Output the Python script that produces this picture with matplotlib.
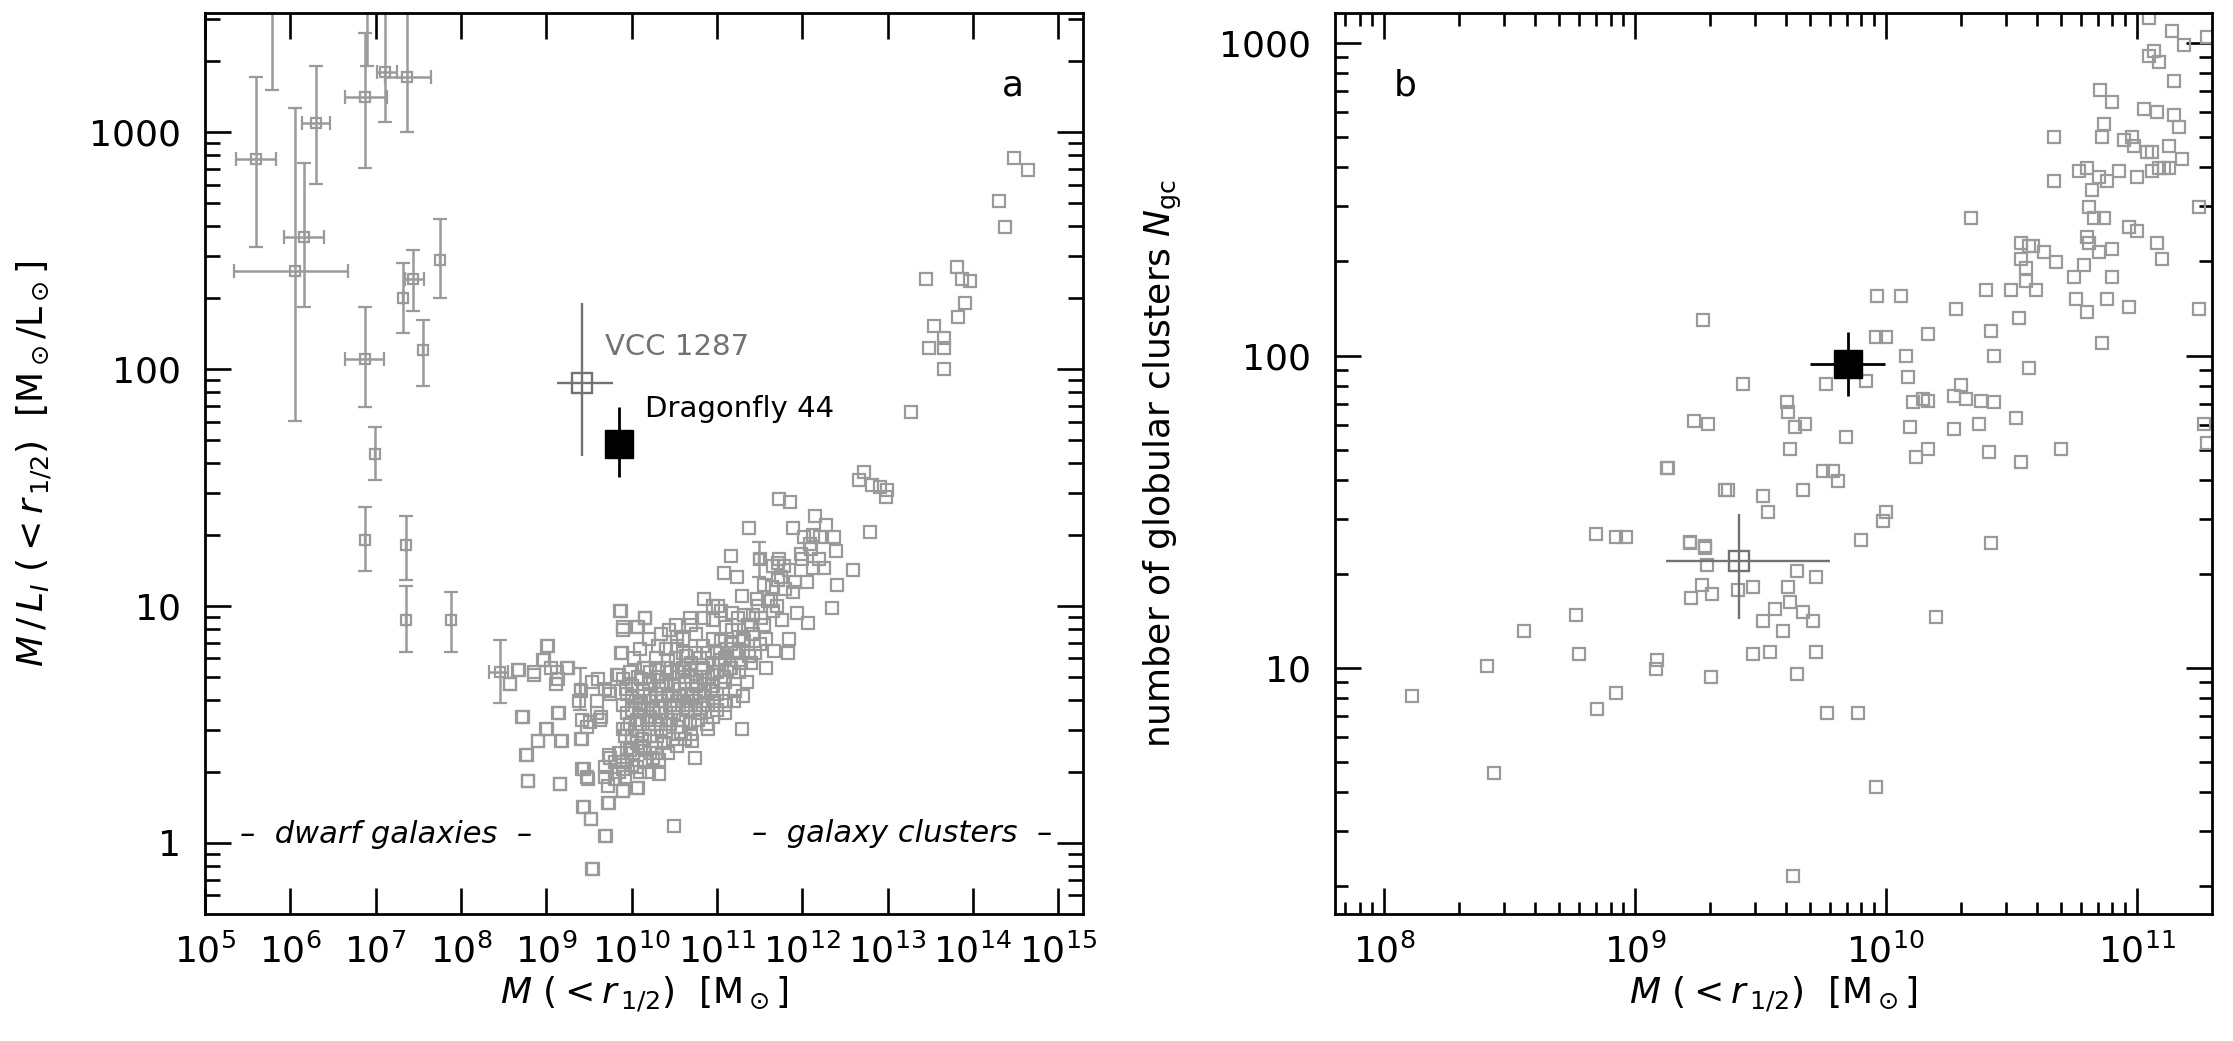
import numpy as np
import matplotlib
matplotlib.use('Agg')
import matplotlib.pyplot as plt
from matplotlib.ticker import LogLocator, NullFormatter, FuncFormatter, NullLocator

plt.rcParams['font.family'] = ['DejaVu Sans']
plt.rcParams['mathtext.fontset'] = 'dejavusans'

GREY = '#9a9a9a'
DARKGREY = '#727272'

# ---------------------------------------------------------------- panel a data
# galaxies (log M(<r1/2), log M/L_I)
cloud_logm = [
    11.38, 11.89, 12.15, 12.28, 12.79, 12.02, 12.13, 12.21, 12.37, 12.09, 12.39, 11.98,
    11.16, 11.51, 11.73, 11.71, 11.66, 11.79, 12.13, 12.25, 12.59, 11.08, 11.24, 11.71,
    11.55, 11.80, 11.89, 12.05, 12.41, 12.35, 11.29, 11.47, 11.63, 10.85, 11.01, 11.18,
    11.32, 11.94, 12.07, 11.76, 11.66, 9.87, 10.16, 9.90, 10.06, 10.31, 9.89, 10.53,
    10.69, 10.95, 11.11, 11.26, 11.42, 11.58, 11.84, 11.83, 11.67, 11.58, 11.37, 11.26,
    11.16, 10.95, 10.84, 10.74, 10.64, 10.53, 10.43, 10.32, 10.22, 10.11, 10.01, 9.95,
    10.15, 10.53, 10.69, 10.84, 10.95, 11.05, 11.16, 11.26, 11.21, 11.11, 10.95, 10.84,
    10.74, 10.64, 10.53, 10.43, 10.32, 10.22, 10.11, 10.01, 10.06, 10.22, 10.32, 10.43,
    10.53, 10.69, 10.90, 10.95, 11.09, 11.29, 10.71, 10.53, 10.43, 10.32, 10.22, 10.11,
    10.01, 9.90, 9.95, 10.06, 10.16, 9.90, 10.06, 10.32, 9.75, 9.69, 9.80, 9.72,
    9.72, 9.69, 9.90, 9.85, 10.74, 10.50, 9.69, 9.55, 9.52, 9.43, 9.42, 9.48,
    9.41, 9.42, 9.48, 9.64, 9.59, 9.59, 9.54, 9.69, 9.75, 9.41, 9.38, 9.17,
    9.16, 8.79, 8.77, 8.90, 9.01, 9.14, 8.73, 9.01, 8.96, 8.86, 8.67, 8.58,
    9.12, 9.06, 9.14, 9.25, 9.85, 9.90,
    9.86, 10.16, 9.90, 10.08, 9.02, 9.88, 8.97, 8.68, 8.86, 9.24, 8.58, 9.11,
    9.61, 9.73, 9.83, 8.72, 9.15, 9.00, 8.90, 9.18, 9.42, 9.63, 9.51, 8.76,
    8.78, 9.16, 9.44, 9.49, 9.73, 9.44, 9.52, 9.70, 9.54, 9.90, 10.07, 9.74,
    9.90, 9.98, 9.94, 10.10, 10.18,
    10.30, 10.40, 10.45, 10.50, 10.55, 10.60, 10.62, 10.70, 10.75, 10.80, 10.85, 10.90,
    10.35, 10.45, 10.55, 10.65, 10.75, 10.85, 10.95, 11.00, 11.05, 10.25, 10.15, 10.05,
    10.20, 10.30, 10.40, 10.50, 10.60, 10.80, 10.90, 11.00, 11.10, 11.20, 10.40, 10.60,
    10.80, 11.00, 10.10, 10.00, 9.95, 10.12, 10.28, 10.38, 10.48, 10.58, 10.68, 10.78,
    10.88, 11.00, 11.10, 11.20, 11.30, 11.35, 11.40, 11.45, 11.50, 11.55, 11.40, 11.30,
    11.20, 11.10, 9.80, 9.85, 9.92, 10.00, 10.20, 10.25, 10.35, 10.15,
    9.95, 10.00, 10.05, 10.08, 10.10, 10.13, 10.18, 10.20, 10.23, 10.27, 10.30, 10.33,
    10.37, 10.40, 10.42, 10.47, 10.50, 10.52, 10.57, 10.60, 10.63, 10.66, 10.70, 10.72,
    10.77, 10.80, 10.82, 10.86, 10.90, 10.93, 10.97, 11.02, 11.05, 11.08, 11.12, 11.15,
    11.18, 11.22, 11.25, 11.28, 11.32, 11.36, 11.42, 11.48, 11.52, 11.60, 11.65, 11.70,
    11.75, 11.85, 11.92, 12.00, 12.10, 12.20, 10.02, 10.10, 10.15, 10.22, 10.30, 10.35,
    10.45, 10.55, 10.62, 10.70, 9.90, 9.93, 9.98, 10.03, 10.10, 10.20, 10.28, 10.34,
    10.44, 10.52, 10.60, 10.68, 10.75, 10.85, 10.95, 11.05, 9.98, 9.92, 10.06,
    12.72, 12.66, 12.82, 12.91, 12.99, 12.98, 11.73, 11.86,
    13.27, 13.45, 13.81, 13.87, 13.97, 13.91, 13.83, 13.54, 13.49, 13.66, 13.66, 13.66,
    14.48, 14.65, 14.31, 14.37,
]
cloud_logml = [
    1.33, 1.33, 1.38, 1.34, 1.31, 1.29, 1.30, 1.29, 1.29, 1.26, 1.23, 1.22,
    1.21, 1.20, 1.20, 1.18, 1.17, 1.17, 1.16, 1.16, 1.15, 1.14, 1.12, 1.11,
    1.09, 1.07, 1.06, 1.10, 1.09, 0.99, 1.04, 1.03, 1.02, 1.03, 1.00, 0.97,
    0.96, 0.97, 0.93, 0.94, 0.98, 0.98, 0.95, 0.91, 0.91, 0.83, 0.80, 0.87,
    0.92, 0.94, 0.91, 0.87, 0.88, 0.86, 0.86, 0.80, 0.81, 0.74, 0.79, 0.81,
    0.84, 0.86, 0.83, 0.80, 0.79, 0.83, 0.77, 0.74, 0.72, 0.69, 0.66, 0.63,
    0.74, 0.72, 0.73, 0.74, 0.76, 0.77, 0.74, 0.72, 0.64, 0.60, 0.60, 0.58,
    0.56, 0.58, 0.60, 0.63, 0.66, 0.62, 0.59, 0.56, 0.52, 0.53, 0.55, 0.52,
    0.49, 0.46, 0.48, 0.53, 0.55, 0.48, 0.43, 0.41, 0.38, 0.35, 0.38, 0.41,
    0.43, 0.48, 0.35, 0.32, 0.34, 0.22, 0.23, 0.29, 0.36, 0.32, 0.34, 0.24,
    0.17, 0.28, 0.31, 0.30, 0.36, 0.07, 0.03, -0.11, 0.10, 0.15, 0.31, 0.28,
    0.44, 0.52, 0.49, 0.53, 0.55, 0.60, 0.68, 0.65, 0.63, 0.64, 0.60, 0.43,
    0.25, 0.26, 0.37, 0.43, 0.48, 0.55, 0.53, 0.83, 0.77, 0.72, 0.73, 0.67,
    0.72, 0.74, 0.69, 0.74, 0.71, 0.69,
    0.98, 0.95, 0.90, 0.91, 0.83, 0.80, 0.77, 0.73, 0.71, 0.74, 0.67, 0.67,
    0.69, 0.64, 0.71, 0.53, 0.55, 0.48, 0.43, 0.43, 0.44, 0.52, 0.51, 0.37,
    0.26, 0.25, 0.31, 0.27, 0.17, 0.15, 0.10, 0.03, -0.11, 0.22, 0.23, 0.37,
    0.34, 0.39, 0.48, 0.57, 0.74,
    0.70, 0.68, 0.72, 0.66, 0.70, 0.74, 0.68, 0.70, 0.66, 0.70, 0.64, 0.70,
    0.60, 0.58, 0.62, 0.62, 0.60, 0.62, 0.66, 0.72, 0.68, 0.56, 0.62, 0.60,
    0.48, 0.45, 0.47, 0.55, 0.52, 0.55, 0.58, 0.63, 0.68, 0.72, 0.82, 0.80,
    0.78, 0.80, 0.50, 0.45, 0.40, 0.44, 0.40, 0.42, 0.44, 0.47, 0.50, 0.52,
    0.50, 0.56, 0.58, 0.60, 0.62, 0.68, 0.76, 0.80, 0.84, 0.92, 0.92, 0.86,
    0.80, 0.78, 0.27, 0.38, 0.28, 0.33, 0.30, 0.36, 0.52, 0.56,
    0.55, 0.62, 0.50, 0.70, 0.58, 0.65, 0.52, 0.68, 0.60, 0.50, 0.63, 0.57,
    0.66, 0.55, 0.74, 0.62, 0.58, 0.78, 0.65, 0.60, 0.72, 0.56, 0.76, 0.63,
    0.68, 0.62, 0.74, 0.67, 0.80, 0.64, 0.72, 0.76, 0.85, 0.70, 0.82, 0.74,
    0.90, 0.80, 0.95, 0.76, 0.85, 0.92, 0.96, 1.00, 0.95, 1.02, 1.08, 1.00,
    1.12, 1.15, 1.10, 1.20, 1.24, 1.20, 0.38, 0.30, 0.40, 0.45, 0.38, 0.48,
    0.50, 0.52, 0.44, 0.58, 0.58, 0.65, 0.72, 0.78, 0.82, 0.86, 0.78, 0.88,
    0.90, 0.92, 0.86, 0.95, 0.88, 0.95, 1.00, 0.98, 0.50, 0.45, 0.42,
    1.565, 1.53, 1.51, 1.50, 1.49, 1.46, 1.45, 1.44,
    1.82, 2.38, 2.43, 2.38, 2.37, 2.28, 2.22, 2.18, 2.09, 2.13, 2.09, 2.00,
    2.89, 2.84, 2.71, 2.60,
]

# dwarfs with error bars (log values)
dwarf_logm = [5.60, 5.79, 6.30, 6.06, 6.16, 6.88, 6.90, 7.11, 7.37, 6.87, 7.32,
              7.44, 7.75, 7.55, 6.99, 6.87, 7.35, 7.35, 7.88, 8.46, 9.40, 11.49]
dwarf_logm_lo = [5.36, 5.79, 6.14, 5.34, 5.93, 6.64, 6.90, 7.02, 7.11, 6.64, 7.32,
                 7.34, 7.75, 7.55, 6.99, 6.87, 7.35, 7.35, 7.88, 8.33, 9.40, 11.49]
dwarf_logm_hi = [5.83, 5.79, 6.46, 6.68, 6.39, 7.13, 6.90, 7.25, 7.65, 7.10, 7.32,
                 7.57, 7.75, 7.55, 6.99, 6.87, 7.35, 7.35, 7.88, 8.55, 9.40, 11.49]
dwarf_logml = [2.886, 3.75, 3.039, 2.415, 2.556, 3.146, 3.70, 3.255, 3.234, 2.04, 2.30,
               2.38, 2.46, 2.078, 1.643, 1.277, 1.255, 0.941, 0.94, 0.72, 0.648, 1.20]
dwarf_logml_lo = [2.515, 3.177, 2.78, 1.78, 2.26, 2.846, 3.28, 3.04, 3.00, 1.84, 2.15,
                  2.245, 2.30, 1.93, 1.53, 1.148, 1.11, 0.806, 0.806, 0.59, 0.56, 1.12]
dwarf_logml_hi = [3.23, 4.2, 3.28, 3.10, 2.87, 3.416, 4.1, 3.6, 3.6, 2.26, 2.445,
                  2.50, 2.632, 2.207, 1.755, 1.416, 1.38, 1.084, 1.06, 0.857, 0.74, 1.27]

# ---------------------------------------------------------------- panel b data
gc_logm = [
    11.05, 11.14, 11.19, 11.28, 11.05, 11.07, 11.09, 11.15, 10.855, 10.90, 11.03, 11.08,
    11.15, 11.17, 10.87, 10.67, 10.86, 10.95, 10.98, 10.99, 11.04, 11.06, 11.13, 11.18,
    10.67, 10.77, 10.80, 10.82, 10.85, 10.88, 10.93, 11.00, 11.06, 11.09, 11.11, 11.13,
    11.25, 10.34, 10.81, 10.83, 10.87, 10.97, 11.00, 11.08, 11.10, 10.54, 10.57, 10.585,
    10.63, 10.54, 10.56, 10.68, 10.56, 10.79, 10.80, 10.81, 10.85, 10.90, 10.75, 10.90,
    10.40, 10.50, 10.60, 10.76, 10.80, 10.88, 10.97, 11.25, 10.86, 9.965, 10.06, 10.28,
    10.53, 10.42, 9.27, 9.96, 10.00, 10.17, 10.08, 10.43, 10.57, 9.43, 9.76, 9.92,
    10.09, 10.30, 10.27, 10.32, 10.11, 10.15, 10.17, 10.38, 10.43, 10.52, 11.27, 11.28,
    9.605, 9.61, 9.235, 9.29, 9.64, 9.68, 9.84, 10.095, 10.27, 10.37, 9.62, 10.12,
    10.17, 10.41, 10.54, 10.70, 9.13, 9.37, 9.51, 9.53, 9.67, 9.75, 9.79, 9.81,
    10.00, 9.99, 9.22, 9.28, 9.90, 10.42,
    8.11, 8.41, 8.44, 8.558, 8.767, 8.779, 8.845, 8.851, 8.924, 8.965, 8.924, 9.089,
    9.084, 9.133, 9.221, 9.28, 9.286, 9.268, 9.225, 9.308, 9.305, 9.36,
    9.41, 9.47, 9.61, 9.645, 9.72, 9.71, 9.51, 9.59, 9.62, 9.67, 9.72, 9.54,
    9.645, 9.765, 9.89, 9.47, 9.56, 9.96, 9.63, 10.20,
]
gc_logn = [
    3.08, 3.04, 2.995, 3.02, 2.96, 2.975, 2.94, 2.88, 2.85, 2.81, 2.79, 2.78,
    2.77, 2.73, 2.74, 2.70, 2.70, 2.69, 2.70, 2.67, 2.65, 2.65, 2.67, 2.63,
    2.56, 2.59, 2.60, 2.53, 2.57, 2.56, 2.59, 2.57, 2.59, 2.60, 2.60, 2.60,
    2.475, 2.44, 2.475, 2.44, 2.44, 2.41, 2.40, 2.36, 2.31, 2.36, 2.35, 2.35,
    2.33, 2.31, 2.28, 2.30, 2.24, 2.29, 2.38, 2.36, 2.33, 2.34, 2.25, 2.25,
    2.21, 2.21, 2.21, 2.18, 2.14, 2.18, 2.155, 2.15, 2.04, 2.19, 2.19, 2.15,
    2.12, 2.08, 2.115, 2.06, 2.06, 2.07, 2.00, 2.00, 1.96, 1.91, 1.91, 1.92,
    1.93, 1.905, 1.87, 1.86, 1.85, 1.86, 1.855, 1.855, 1.85, 1.80, 1.78, 1.72,
    1.85, 1.82, 1.79, 1.78, 1.77, 1.78, 1.74, 1.77, 1.765, 1.78, 1.70, 1.675,
    1.70, 1.69, 1.66, 1.70, 1.64, 1.57, 1.55, 1.50, 1.57, 1.63, 1.63, 1.60,
    1.50, 1.47, 1.40, 1.39, 1.41, 1.40,
    0.91, 1.007, 0.663, 1.119, 1.17, 1.046, 1.43, 0.87, 1.418, 1.418, 0.92, 1.026,
    0.998, 1.641, 1.402, 1.384, 1.33, 1.267, 1.223, 1.236, 0.972, 1.571,
    1.25, 1.26, 1.26, 1.31, 1.29, 1.15, 1.15, 1.12, 1.21, 1.18, 1.05, 1.05,
    0.98, 0.856, 0.856, 1.045, 1.19, 0.62, 0.334, 1.163,
]

# highlighted galaxies
df44_mass, df44_mass_lo, df44_mass_hi = 7.1e9, 5.0e9, 9.9e9
df44_ml, df44_ml_lo, df44_ml_hi = 48, 35, 69
df44_ngc, df44_ngc_lo, df44_ngc_hi = 94, 74, 119
vcc_mass, vcc_mass_lo, vcc_mass_hi = 2.6e9, 1.33e9, 6.0e9
vcc_ml, vcc_ml_lo, vcc_ml_hi = 87, 43, 190
vcc_ngc, vcc_ngc_lo, vcc_ngc_hi = 22, 14.4, 31


def style_axis(ax, xmin_len, ymin_len):
    for s in ax.spines.values():
        s.set_linewidth(2.0)
    ax.tick_params(axis='both', which='both', direction='in', top=True, right=True,
                   width=1.9, colors='k')
    ax.tick_params(axis='both', which='major', length=19, labelsize=26)
    ax.tick_params(axis='x', which='minor', length=xmin_len)
    ax.tick_params(axis='y', which='minor', length=ymin_len)
    ax.tick_params(axis='x', which='major', pad=14)
    ax.tick_params(axis='y', which='major', pad=17)


fig = plt.figure(figsize=(22.33, 10.41), dpi=100)
W, H = 2233.0, 1041.0
ax_a = fig.add_axes([205 / W, 127 / H, 878 / W, 901 / H])
ax_b = fig.add_axes([1335 / W, 127 / H, 877 / W, 901 / H])

# ------------------------------------------------------------------- panel a
gm = 10 ** np.array(cloud_logm)
gml = 10 ** np.array(cloud_logml)
ax_a.loglog(gm, gml, 's', ms=8.5, mfc='none', mec=GREY, mew=1.6, zorder=2)

dm = 10 ** np.array(dwarf_logm)
dml = 10 ** np.array(dwarf_logml)
xerr = [dm - 10 ** np.array(dwarf_logm_lo), 10 ** np.array(dwarf_logm_hi) - dm]
yerr = [dml - 10 ** np.array(dwarf_logml_lo), 10 ** np.array(dwarf_logml_hi) - dml]
ax_a.errorbar(dm, dml, xerr=xerr, yerr=yerr, fmt='s', ms=6.5, mfc='none', mec=GREY,
              mew=1.6, ecolor=GREY, elinewidth=1.8, capsize=5, capthick=1.8, zorder=2)

ax_a.errorbar([vcc_mass], [vcc_ml],
              xerr=[[vcc_mass - vcc_mass_lo], [vcc_mass_hi - vcc_mass]],
              yerr=[[vcc_ml - vcc_ml_lo], [vcc_ml_hi - vcc_ml]],
              fmt='s', ms=14, mfc='none', mec=DARKGREY, mew=1.7, ecolor=DARKGREY,
              elinewidth=1.7, capsize=0, zorder=4)
ax_a.errorbar([df44_mass], [df44_ml],
              yerr=[[df44_ml - df44_ml_lo], [df44_ml_hi - df44_ml]],
              fmt='s', ms=20, mfc='k', mec='k', ecolor='k', elinewidth=2.0,
              capsize=0, zorder=5)

ax_a.set_xlim(1e5, 10 ** 15.29)
ax_a.set_ylim(10 ** -0.30, 10 ** 3.502)
ax_a.xaxis.set_major_locator(LogLocator(base=10, numticks=20))
ax_a.xaxis.set_minor_locator(NullLocator())
ax_a.yaxis.set_major_locator(LogLocator(base=10, numticks=10))
ax_a.yaxis.set_minor_locator(LogLocator(base=10, subs=np.arange(2, 10), numticks=10))
ax_a.yaxis.set_major_formatter(FuncFormatter(lambda v, p: '%g' % v))
ax_a.yaxis.set_minor_formatter(NullFormatter())
style_axis(ax_a, 10, 11)

ax_a.set_xlabel(r'$M\ (<r_{\,1/2})$  [M$_\odot$]', fontsize=26)
ax_a.xaxis.set_label_coords(0.5, -0.068)
ax_a.set_ylabel(r'$M\,/\,L_I\ (<r_{\,1/2})$  [M$_\odot$/L$_\odot$]', fontsize=26)
ax_a.yaxis.set_label_coords(-0.172, 0.5)

ax_a.text(0.920, 0.919, 'a', transform=ax_a.transAxes, fontsize=26,
          ha='center', va='center')
ax_a.text(0.4556, 0.629, 'VCC 1287', transform=ax_a.transAxes, fontsize=21,
          color=DARKGREY, ha='left', va='center')
ax_a.text(0.501, 0.5605, 'Dragonfly 44', transform=ax_a.transAxes, fontsize=21,
          color='k', ha='left', va='center')
ax_a.text(0.206, 0.0877, u'\u2013  dwarf galaxies  \u2013', transform=ax_a.transAxes,
          fontsize=22, style='italic', ha='center', va='center')
ax_a.text(0.794, 0.0899, u'\u2013  galaxy clusters  \u2013', transform=ax_a.transAxes,
          fontsize=22, style='italic', ha='center', va='center')

# ------------------------------------------------------------------- panel b
bm = 10 ** np.array(gc_logm)
bn = 10 ** np.array(gc_logn)
ax_b.loglog(bm, bn, 's', ms=8.5, mfc='none', mec=GREY, mew=1.6, zorder=2)

ax_b.errorbar([vcc_mass], [vcc_ngc],
              xerr=[[vcc_mass - vcc_mass_lo], [vcc_mass_hi - vcc_mass]],
              yerr=[[vcc_ngc - vcc_ngc_lo], [vcc_ngc_hi - vcc_ngc]],
              fmt='s', ms=14, mfc='none', mec=DARKGREY, mew=1.7, ecolor=DARKGREY,
              elinewidth=1.7, capsize=0, zorder=4)
ax_b.errorbar([df44_mass], [df44_ngc],
              xerr=[[df44_mass - df44_mass_lo], [df44_mass_hi - df44_mass]],
              yerr=[[df44_ngc - df44_ngc_lo], [df44_ngc_hi - df44_ngc]],
              fmt='s', ms=20, mfc='k', mec='k', ecolor='k', elinewidth=2.0,
              capsize=0, zorder=5)

ax_b.set_xlim(10 ** 7.805, 10 ** 11.3)
ax_b.set_ylim(10 ** 0.213, 10 ** 3.096)
ax_b.xaxis.set_major_locator(LogLocator(base=10, numticks=10))
ax_b.xaxis.set_minor_locator(LogLocator(base=10, subs=np.arange(2, 10), numticks=10))
ax_b.yaxis.set_major_locator(LogLocator(base=10, numticks=10))
ax_b.yaxis.set_minor_locator(LogLocator(base=10, subs=np.arange(2, 10), numticks=10))
ax_b.yaxis.set_major_formatter(FuncFormatter(lambda v, p: '%g' % v))
ax_b.xaxis.set_minor_formatter(NullFormatter())
ax_b.yaxis.set_minor_formatter(NullFormatter())
style_axis(ax_b, 9, 9.5)

ax_b.set_xlabel(r'$M\ (<r_{\,1/2})$  [M$_\odot$]', fontsize=26)
ax_b.xaxis.set_label_coords(0.5, -0.068)
ax_b.set_ylabel(r'number of globular clusters $N_{\rm gc}$', fontsize=26)
ax_b.yaxis.set_label_coords(-0.172, 0.5)
ax_b.text(0.0798, 0.919, 'b', transform=ax_b.transAxes, fontsize=26,
          ha='center', va='center')

fig.savefig('out.png', dpi=100)
